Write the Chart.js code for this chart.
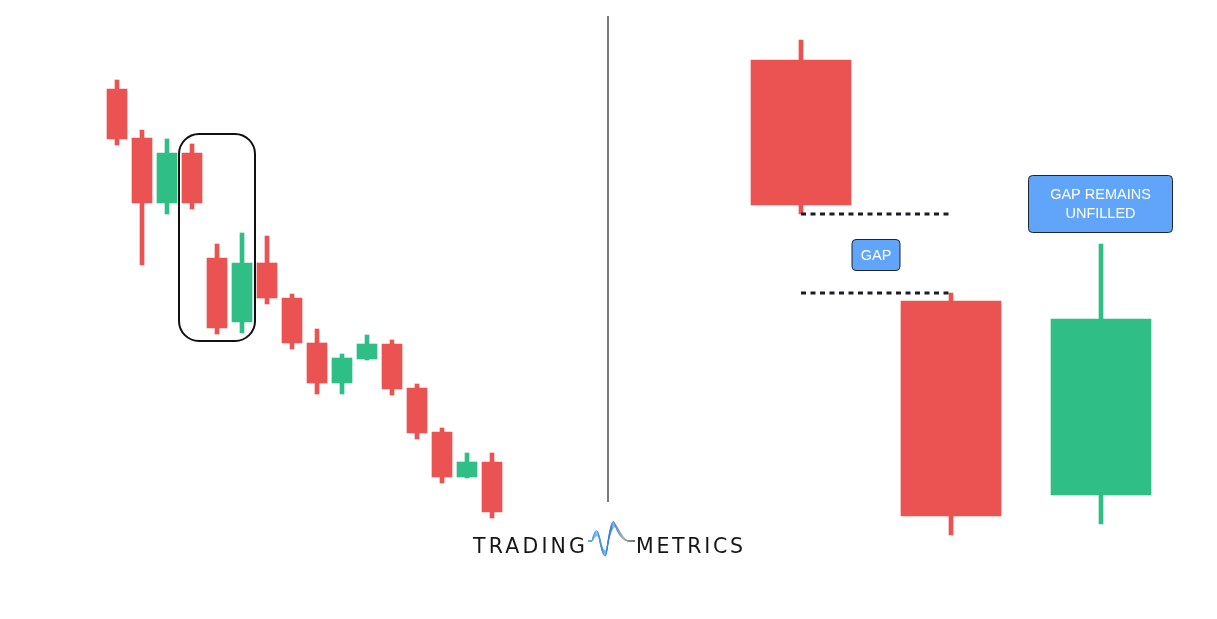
<!DOCTYPE html>
<html>
<head>
<meta charset="utf-8">
<script src="https://cdn.jsdelivr.net/npm/chart.js@4.4.1/dist/chart.umd.min.js"></script>
<style>
  html, body { margin: 0; padding: 0; background: #ffffff; }
  #wrap { position: relative; width: 1217px; height: 619px; }
</style>
</head>
<body>
<div id="wrap"><canvas id="c"></canvas></div>
<script>
// ---------- DATA ----------
// Left panel: 16 candles (price units)
const leftIndex = [0, 1, 2, 3, 4, 5, 6, 7, 8, 9, 10, 11, 12, 13, 14, 15];
const leftOpen  = [106.0, 96.2, 83.2, 93.2, 72.2, 59.4, 71.2, 64.2, 55.2, 47.2, 52.0, 55.0, 46.2, 37.4, 28.4, 31.4];
const leftHigh  = [107.8, 97.8, 96.0, 95.0, 75.0, 77.2, 76.6, 65.0, 58.0, 53.0, 56.8, 55.8, 47.0, 38.2, 33.2, 33.2];
const leftLow   = [ 94.8, 70.8, 81.0, 82.0, 57.0, 57.2, 63.0, 54.0, 45.0, 45.0, 51.8, 44.8, 36.0, 27.2, 28.2, 20.2];
const leftClose = [ 96.0, 83.2, 93.2, 83.2, 58.2, 71.2, 64.2, 55.2, 47.2, 52.2, 55.0, 46.0, 37.2, 28.4, 31.4, 21.4];

// Right panel: 3 candles showing an unfilled gap
const rightIndex = [0, 1, 2];
const rightOpen  = [111.8, 63.6, 24.8];
const rightHigh  = [115.8, 65.2, 75.0];
const rightLow   = [ 81.0, 16.8, 19.0];
const rightClose = [ 82.8, 20.6, 60.0];

// Gap levels (low of first candle, high of second candle)
const gapUpper = rightLow[0];
const gapLower = rightHigh[1];

// Highlight box on the left panel (index range, price range)
const highlightX = [2.48, 5.52];
const highlightY = [55.6, 97.0];

// Annotation texts
const gapLabel = ['GAP'];
const unfilledLabel = ['GAP REMAINS', 'UNFILLED'];
const logoLeft = 'TRADING';
const logoRight = 'METRICS';

// ---------- STYLE ----------
const RED = '#EB5252';
const GREEN = '#2EBE86';
const BLUE = '#60A5FA';

const W = 1217, H = 619;
const leftStep = 25;   // px per left candle
const rightStep = 150; // px per right candle
const leftFirst = 117; // px of first left candle
const rightFirst = 801;

const colorOf = (o, c) => (c >= o ? GREEN : RED);
const leftColors = leftOpen.map((o, i) => colorOf(o, leftClose[i]));
const rightColors = rightOpen.map((o, i) => colorOf(o, rightClose[i]));

function roundRect(ctx, x, y, w, h, r) {
  ctx.beginPath();
  ctx.moveTo(x + r, y);
  ctx.lineTo(x + w - r, y);
  ctx.arcTo(x + w, y, x + w, y + r, r);
  ctx.lineTo(x + w, y + h - r);
  ctx.arcTo(x + w, y + h, x + w - r, y + h, r);
  ctx.lineTo(x + r, y + h);
  ctx.arcTo(x, y + h, x, y + h - r, r);
  ctx.lineTo(x, y + r);
  ctx.arcTo(x, y, x + r, y, r);
  ctx.closePath();
}

function drawLabel(ctx, cx, cy, w, h, lines) {
  ctx.save();
  roundRect(ctx, cx - w / 2 + 0.5, cy - h / 2 + 0.5, w - 1, h - 1, 4);
  ctx.fillStyle = BLUE;
  ctx.fill();
  ctx.lineWidth = 1;
  ctx.strokeStyle = '#1d2530';
  ctx.stroke();
  ctx.fillStyle = '#ffffff';
  ctx.font = '14.5px "Liberation Sans", Arial, sans-serif';
  ctx.textAlign = 'center';
  ctx.textBaseline = 'middle';
  const lh = 19.5;
  const start = cy - (lines.length - 1) * lh / 2;
  lines.forEach((t, i) => ctx.fillText(t, cx, start + i * lh + 0.5));
  ctx.restore();
}

const decor = {
  id: 'decor',
  afterDatasetsDraw(chart) {
    const { ctx, scales } = chart;
    const xL = scales.xL, xR = scales.xR, y = scales.y;

    // highlight rounded rectangle
    ctx.save();
    const hx1 = xL.getPixelForValue(highlightX[0]);
    const hx2 = xL.getPixelForValue(highlightX[1]);
    const hy1 = y.getPixelForValue(highlightY[1]);
    const hy2 = y.getPixelForValue(highlightY[0]);
    roundRect(ctx, hx1, hy1, hx2 - hx1, hy2 - hy1, 20);
    ctx.lineWidth = 2;
    ctx.strokeStyle = '#111111';
    ctx.stroke();
    ctx.restore();

    // divider
    ctx.save();
    ctx.strokeStyle = '#7a7a7a';
    ctx.lineWidth = 2;
    ctx.beginPath();
    ctx.moveTo(608, 16);
    ctx.lineTo(608, 502);
    ctx.stroke();
    ctx.restore();

    // labels
    drawLabel(ctx, xR.getPixelForValue(0.5), y.getPixelForValue((gapUpper + gapLower) / 2) + 1.5, 49, 32, gapLabel);
    drawLabel(ctx, xR.getPixelForValue(2) - 0.5, y.getPixelForValue(83), 145, 58, unfilledLabel);

    // logo
    ctx.save();
    ctx.fillStyle = '#161616';
    ctx.font = '400 20.5px "DejaVu Sans", "Open Sans", sans-serif';
    ctx.textBaseline = 'alphabetic';
    ctx.textAlign = 'left';
    const fit = (t, target) => {
      ctx.letterSpacing = '0px';
      const w = ctx.measureText(t).width;
      const ls = (target - w) / (t.length - 1);
      ctx.letterSpacing = ls + 'px';
    };
    fit(logoLeft, 112);
    ctx.fillText(logoLeft, 473, 553);
    fit(logoRight, 107);
    ctx.fillText(logoRight, 636, 553);
    ctx.letterSpacing = '0px';

    // waveform icon
    const g = ctx.createLinearGradient(588, 0, 635, 0);
    g.addColorStop(0, '#5aa9ea');
    g.addColorStop(0.5, '#2f7fd6');
    g.addColorStop(0.75, '#9aa4b0');
    g.addColorStop(1, '#6b6b6b');
    ctx.lineWidth = 1;
    for (let k = 0; k < 8; k++) {
      const o = k * 0.8;
      ctx.strokeStyle = g;
      ctx.globalAlpha = k === 0 ? 1 : 0.6;
      ctx.beginPath();
      ctx.moveTo(588, 541);
      ctx.lineTo(592, 541);
      ctx.quadraticCurveTo(595 + o * 0.3, 527 + o, 598 + o * 0.3, 532 + o);
      ctx.quadraticCurveTo(603, 561 - o, 606 + o * 0.2, 555 - o);
      ctx.quadraticCurveTo(611, 517 + o, 614 + o * 0.6, 522 + o);
      ctx.quadraticCurveTo(619 + o, 540, 628, 541);
      ctx.lineTo(635, 541);
      ctx.stroke();
    }
    ctx.globalAlpha = 1;
    ctx.restore();
  }
};

const xRMin = -rightFirst / rightStep;
const xLMin = -leftFirst / leftStep;

new Chart(document.getElementById('c'), {
  type: 'bar',
  data: {
    datasets: [
      {
        type: 'line', xAxisID: 'xR',
        data: [{ x: rightIndex[0], y: gapUpper }, { x: rightIndex[1], y: gapUpper }],
        borderColor: '#1b1c26', borderWidth: 3, borderDash: [5, 4.5],
        pointRadius: 0, fill: false, order: 0
      },
      {
        type: 'line', xAxisID: 'xR',
        data: [{ x: rightIndex[0], y: gapLower }, { x: rightIndex[1], y: gapLower }],
        borderColor: '#1b1c26', borderWidth: 3, borderDash: [5, 4.5],
        pointRadius: 0, fill: false, order: 0
      },
      {
        xAxisID: 'xL', barThickness: 4, order: 2,
        data: leftIndex.map(i => ({ x: i, y: [leftLow[i], leftHigh[i]] })),
        backgroundColor: leftColors
      },
      {
        xAxisID: 'xL', barThickness: 20, order: 1,
        data: leftIndex.map(i => ({ x: i, y: [leftOpen[i], leftClose[i]] })),
        backgroundColor: leftColors
      },
      {
        xAxisID: 'xR', barThickness: 4, order: 2,
        data: rightIndex.map(i => ({ x: i, y: [rightLow[i], rightHigh[i]] })),
        backgroundColor: rightColors
      },
      {
        xAxisID: 'xR', barThickness: 100, order: 1,
        data: rightIndex.map(i => ({ x: i, y: [rightOpen[i], rightClose[i]] })),
        backgroundColor: rightColors
      }
    ]
  },
  options: {
    responsive: true,
    maintainAspectRatio: false,
    animation: false,
    layout: { padding: 0 },
    datasets: { bar: { grouped: false, borderWidth: 0, borderSkipped: false } },
    plugins: { legend: { display: false }, tooltip: { enabled: false }, title: { display: false } },
    scales: {
      xL: { type: 'linear', display: false, offset: false, bounds: 'data', min: xLMin, max: xLMin + W / leftStep },
      xR: { type: 'linear', display: false, offset: false, bounds: 'data', min: xRMin, max: xRMin + W / rightStep },
      y: { type: 'linear', display: false, min: 0, max: H / 5 }
    }
  },
  plugins: [decor]
});
</script>
</body>
</html>
